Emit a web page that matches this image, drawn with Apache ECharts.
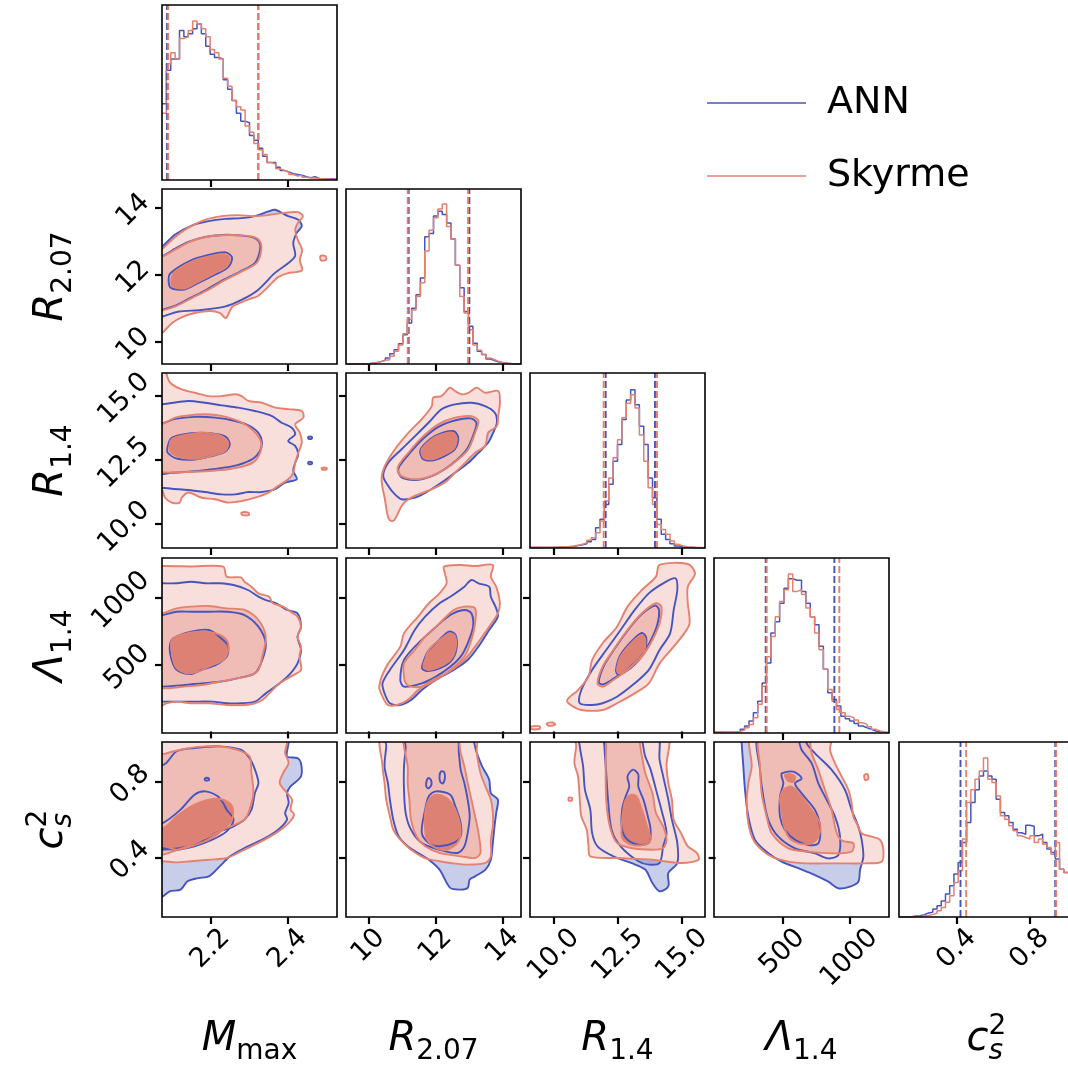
<!DOCTYPE html>
<html>
<head>
<meta charset="utf-8">
<script src="https://cdn.jsdelivr.net/npm/echarts@6/dist/echarts.min.js"></script>
<style>
  html, body { margin: 0; padding: 0; background: #fff; }
  #chart { width: 1068px; height: 1068px; }
</style>
</head>
<body>
<div id="chart"></div>
<script>
// variables: Mmax, R2.07, R1.4, Lambda1.4, cs2
const axisMin = [2.075, 9.33, 9.07, -12, 0.084];
const axisMax = [2.527, 14.55, 15.89, 1295, 1.010];
const tickValues = [[2.2, 2.4], [10, 12, 14], [10, 12.5, 15], [500, 1000], [0.4, 0.8]];
const tickLabels = [["2.2", "2.4"], ["10", "12", "14"], ["10.0", "12.5", "15.0"], ["500", "1000"], ["0.4", "0.8"]];
const modelNames = ["ANN", "Skyrme"];

// 1D histograms, 40 equal bins spanning each axis range (relative heights)
const histAnnM = [48, 69, 76, 76, 94, 90, 92, 95, 98, 92, 84, 79, 77, 76, 63, 57, 50, 42, 37, 36, 28, 25, 20, 15, 11, 11, 8, 6, 5, 4, 3.5, 3, 2, 1.5, 2, 1, 0.8, 0.6, 0.8, 0.4];
const histSkyM = [42, 73, 80, 76, 89, 90, 94, 100, 98, 95, 90, 82, 80, 76, 64, 59, 50, 46, 44, 34, 30, 23, 19, 16, 11, 10, 7, 6, 5, 3.5, 2.5, 3, 1.7, 1.3, 1.3, 1, 0.8, 0.6, 0.4, 0.2];
const histAnnR207 = [0, 0, 0, 0, 0, 0.4, 0.8, 1.5, 2.3, 3.8, 6.5, 9, 12.8, 18.4, 25.8, 35, 43.6, 54, 80, 82, 93, 96, 94, 88.6, 78.6, 62, 48, 33, 23.7, 13, 8, 5.9, 3.1, 2.1, 1.3, 0.8, 0.4, 0.2, 0, 0];
const histSkyR207 = [0, 0, 0, 0, 0, 0.4, 0.8, 1.5, 2.3, 2.7, 4.8, 8, 12, 19, 28, 34, 42.5, 51, 71, 84, 92, 97.5, 100.5, 86.5, 78.6, 62, 42.5, 32, 21.6, 12, 8.6, 5.9, 3.8, 2.7, 1.5, 0.8, 0.4, 0.2, 0, 0];
const histAnnR14 = [0.2, 0.2, 0.3, 0.3, 0.3, 0.3, 0.4, 0.5, 0.7, 1, 1.5, 2.1, 2.7, 4, 5.4, 12.8, 18, 27.4, 40, 54.6, 65, 80.7, 93, 99.5, 90, 76.5, 65, 44, 31.6, 18, 8.6, 5.4, 2.7, 1.3, 0.8, 0.4, 0.3, 0.2, 0.1, 0];
const histSkyR14 = [0.6, 0.6, 0.4, 0.4, 0.4, 0.6, 0.8, 0.8, 1, 1.3, 1.7, 2.3, 3.3, 4.8, 6.5, 9.6, 17, 29.5, 44, 56.7, 68, 81.8, 91, 96.4, 88, 71, 54.6, 37.9, 27.4, 14.8, 11.7, 8.6, 4.4, 2.3, 1.3, 0.8, 0.6, 0.4, 0.3, 0.2];
const histAnnLam = [0.4, 0.4, 0.4, 0.4, 0.5, 1, 2.3, 4.4, 7.5, 12.7, 20, 31.5, 44, 62.8, 70, 81.6, 91, 97, 96, 96, 89, 81.6, 73, 68, 54.5, 40, 25.3, 21, 17, 10.6, 9, 7.5, 6, 4.4, 3.3, 2.3, 1.3, 0.8, 0.4, 0.2];
const histSkyLam = [0.6, 0.6, 0.5, 0.5, 0.6, 1, 1.9, 3.3, 5.4, 9.6, 18, 29.4, 48, 60.7, 73, 82.7, 90, 100, 89, 90, 87, 78.5, 73, 62.8, 52.4, 40, 27.3, 20, 14.8, 12.7, 10.6, 9.6, 8.1, 6.5, 5.4, 4, 2.3, 1.3, 0.6, 0.4];
const histAnnCs = [0, 0, 0.2, 0.6, 0.8, 1.5, 2.5, 3, 5, 7, 10, 14.4, 19.7, 27, 34.3, 46.8, 59.4, 72, 80, 88.7, 91.8, 88.7, 86.6, 74, 65.7, 63.6, 59.4, 55.2, 53, 52, 57.7, 57, 51, 52, 46.8, 42.7, 40.6, 36.4, 30, 28];
const histSkyCs = [0, 0, 0, 0, 0.2, 0.6, 1, 1.5, 2.5, 4, 6, 9.2, 13.4, 21.7, 29, 49, 72, 80, 86.6, 91.8, 100, 86.6, 84.5, 76, 63.6, 61.5, 57.3, 54.2, 51, 50, 49, 51, 46.8, 49, 45.8, 43.7, 39.5, 46.8, 30, 28];

// 16% / 84% quantiles (dashed lines)
const quantAnn = [[2.088, 2.324], [11.20, 13.01], [12.02, 13.94], [374, 887], [0.421, 0.940]];
const quantSky = [[2.091, 2.323], [11.17, 12.97], [11.94, 14.02], [382, 924], [0.452, 0.945]];

// 2D contours: [level (0 outer, 1 middle, 2 inner), outline points in data units]
const annM_R207 = [
  [0, [[2.057,12.72],[2.074,12.82],[2.109,13.19],[2.152,13.46],[2.195,13.59],[2.238,13.66],[2.281,13.68],[2.315,13.74],[2.350,13.88],[2.367,13.93],[2.401,13.74],[2.427,13.63],[2.436,13.44],[2.423,13.24],[2.414,12.94],[2.418,12.53],[2.366,12.04],[2.323,11.54],[2.280,11.24],[2.237,11.04],[2.177,10.94],[2.116,10.89],[2.075,10.74],[2.057,10.70]]],
  [1, [[2.057,12.57],[2.075,12.55],[2.109,12.77],[2.143,12.97],[2.186,13.12],[2.229,13.18],[2.272,13.17],[2.312,13.10],[2.328,12.92],[2.326,12.62],[2.314,12.33],[2.276,12.08],[2.235,11.85],[2.192,11.56],[2.150,11.31],[2.108,11.06],[2.075,10.95],[2.057,10.90]]],
  [2, [[2.098,12.05],[2.150,12.42],[2.195,12.58],[2.240,12.66],[2.256,12.50],[2.246,12.22],[2.213,12.00],[2.168,11.74],[2.132,11.55],[2.098,11.60],[2.092,11.84]]]
];
const skyM_R207 = [
  [0, [[2.057,12.64],[2.075,12.76],[2.109,13.12],[2.142,13.39],[2.186,13.63],[2.230,13.74],[2.271,13.77],[2.315,13.74],[2.349,13.77],[2.385,13.83],[2.426,13.86],[2.439,13.74],[2.426,13.54],[2.419,13.33],[2.426,13.03],[2.437,12.73],[2.431,12.43],[2.437,12.13],[2.419,12.07],[2.400,12.04],[2.375,11.92],[2.359,11.75],[2.341,11.54],[2.323,11.36],[2.302,11.27],[2.276,11.15],[2.256,11.03],[2.240,10.70],[2.225,10.85],[2.199,10.91],[2.160,10.85],[2.127,10.73],[2.101,10.55],[2.075,10.25],[2.057,10.11]]],
  [0, [[2.484,12.55],[2.497,12.55],[2.499,12.44],[2.486,12.42]]],
  [1, [[2.057,12.55],[2.075,12.54],[2.109,12.74],[2.143,12.96],[2.186,13.11],[2.229,13.17],[2.272,13.17],[2.315,13.11],[2.330,12.94],[2.330,12.64],[2.319,12.34],[2.279,12.08],[2.237,11.83],[2.194,11.54],[2.151,11.29],[2.108,11.04],[2.075,10.92],[2.057,10.88]]],
  [2, [[2.108,12.08],[2.151,12.38],[2.194,12.53],[2.237,12.61],[2.250,12.48],[2.241,12.23],[2.211,12.04],[2.168,11.78],[2.134,11.59],[2.103,11.64],[2.099,11.84]]]
];
const annM_R14 = [
  [0, [[2.057,14.70],[2.074,14.67],[2.143,14.80],[2.186,14.73],[2.229,14.63],[2.272,14.54],[2.315,14.41],[2.358,14.22],[2.384,13.95],[2.410,13.76],[2.419,13.50],[2.401,13.24],[2.419,13.05],[2.427,12.72],[2.419,12.39],[2.414,12.07],[2.423,11.75],[2.393,11.62],[2.367,11.36],[2.333,11.25],[2.298,11.25],[2.264,11.16],[2.229,11.16],[2.186,11.25],[2.143,11.33],[2.100,11.38],[2.074,11.42],[2.057,11.42]]],
  [0, [[2.453,13.40],[2.462,13.40],[2.462,13.33],[2.453,13.33]]],
  [0, [[2.453,12.42],[2.462,12.42],[2.462,12.35],[2.453,12.35]]],
  [1, [[2.057,13.92],[2.074,13.92],[2.109,14.10],[2.160,14.18],[2.212,14.15],[2.264,14.02],[2.298,13.85],[2.324,13.56],[2.333,13.20],[2.328,12.85],[2.310,12.55],[2.270,12.30],[2.212,12.15],[2.150,12.05],[2.100,12.00],[2.074,11.95],[2.057,11.95]]],
  [2, [[2.090,13.05],[2.100,13.36],[2.150,13.54],[2.200,13.54],[2.240,13.40],[2.250,13.10],[2.238,12.82],[2.200,12.64],[2.160,12.52],[2.115,12.55],[2.090,12.78]]]
];
const skyM_R14 = [
  [0, [[2.057,16.01],[2.087,16.01],[2.087,15.84],[2.096,15.51],[2.126,15.25],[2.160,15.12],[2.195,14.99],[2.229,14.99],[2.264,15.06],[2.281,14.99],[2.298,14.80],[2.333,14.73],[2.367,14.54],[2.401,14.48],[2.436,14.41],[2.440,14.15],[2.419,13.89],[2.431,13.56],[2.436,13.17],[2.427,12.78],[2.419,12.39],[2.414,12.00],[2.401,11.75],[2.375,11.49],[2.350,11.23],[2.315,11.03],[2.281,10.90],[2.246,10.84],[2.212,10.97],[2.178,11.03],[2.143,11.23],[2.126,11.03],[2.121,10.84],[2.100,10.84],[2.083,11.03],[2.074,11.36],[2.057,11.36]]],
  [0, [[2.488,12.19],[2.500,12.19],[2.500,12.13],[2.488,12.13]]],
  [0, [[2.280,10.45],[2.298,10.45],[2.300,10.36],[2.282,10.36]]],
  [1, [[2.057,13.89],[2.074,13.89],[2.109,14.15],[2.143,14.24],[2.186,14.28],[2.229,14.22],[2.272,14.02],[2.307,13.70],[2.328,13.31],[2.331,12.92],[2.315,12.46],[2.289,12.27],[2.246,12.14],[2.195,12.07],[2.143,12.03],[2.100,12.01],[2.074,12.01],[2.057,12.01]]],
  [2, [[2.100,13.31],[2.143,13.50],[2.186,13.56],[2.229,13.43],[2.246,13.17],[2.238,12.85],[2.203,12.66],[2.169,12.55],[2.126,12.59],[2.096,12.85]]]
];
const annR207_R14 = [
  [0, [[10.44,11.88],[10.59,12.39],[10.99,12.92],[11.39,13.43],[11.79,13.95],[12.18,14.48],[12.58,14.67],[13.08,14.73],[13.48,14.60],[13.77,14.34],[13.83,13.95],[13.72,13.56],[13.57,13.17],[13.28,12.78],[12.98,12.39],[12.58,12.00],[12.18,11.62],[11.79,11.29],[11.39,11.03],[10.99,10.97],[10.79,11.16],[10.59,11.49]]],
  [1, [[10.92,12.25],[11.22,12.75],[11.62,13.32],[12.10,13.80],[12.60,14.05],[13.05,14.12],[13.22,13.95],[13.15,13.55],[12.95,12.95],[12.65,12.52],[12.25,12.12],[11.85,11.85],[11.45,11.72],[11.05,11.78],[10.90,12.00]]],
  [2, [[11.55,12.90],[11.85,13.32],[12.18,13.55],[12.55,13.62],[12.68,13.35],[12.58,12.92],[12.22,12.62],[11.90,12.48],[11.62,12.55]]]
];
const skyR207_R14 = [
  [0, [[10.59,10.25],[10.49,10.97],[10.39,11.75],[10.49,12.27],[10.79,12.92],[11.19,13.56],[11.59,14.09],[11.89,14.60],[11.93,14.93],[12.18,14.99],[12.43,15.32],[12.58,15.19],[12.78,15.06],[12.98,15.12],[13.23,15.32],[13.48,15.12],[13.87,15.19],[13.92,14.73],[13.87,14.21],[13.83,13.82],[13.57,13.56],[13.48,13.05],[13.18,12.78],[12.88,12.39],[12.58,12.00],[12.28,11.62],[11.89,11.36],[11.49,11.16],[11.19,10.97],[10.99,10.71],[10.79,10.19],[10.69,10.12]]],
  [1, [[10.89,12.27],[11.19,12.78],[11.59,13.37],[12.08,13.89],[12.58,14.15],[13.08,14.21],[13.28,14.02],[13.18,13.56],[12.98,12.92],[12.68,12.53],[12.28,12.14],[11.89,11.88],[11.49,11.75],[11.09,11.81],[10.89,12.00]]],
  [2, [[11.59,12.92],[11.89,13.31],[12.18,13.50],[12.53,13.56],[12.63,13.31],[12.53,12.92],[12.18,12.66],[11.89,12.53],[11.64,12.59]]]
];
const annM_Lam = [
  [0, [[2.05,1106],[2.077,1106],[2.113,1106],[2.150,1118],[2.187,1106],[2.224,1106],[2.260,1093],[2.297,1056],[2.324,1006],[2.343,981],[2.370,957],[2.398,907],[2.425,882],[2.434,782],[2.425,707],[2.434,608],[2.425,508],[2.407,434],[2.379,359],[2.343,284],[2.315,222],[2.279,210],[2.242,210],[2.205,222],[2.150,222],[2.113,222],[2.077,222],[2.05,222]]],
  [1, [[2.05,869],[2.077,869],[2.113,894],[2.150,894],[2.196,894],[2.242,894],[2.288,869],[2.324,782],[2.343,658],[2.334,533],[2.315,434],[2.269,396],[2.224,371],[2.178,359],[2.132,346],[2.077,334],[2.05,334]]],
  [2, [[2.095,633],[2.104,695],[2.150,745],[2.196,757],[2.233,683],[2.246,633],[2.242,558],[2.214,496],[2.178,459],[2.150,429],[2.113,459],[2.100,533]]]
];
const skyM_Lam = [
  [0, [[2.05,1230],[2.081,1235],[2.150,1232],[2.233,1230],[2.242,1156],[2.279,1150],[2.288,1118],[2.306,1081],[2.324,1031],[2.352,1006],[2.361,957],[2.388,932],[2.407,894],[2.425,857],[2.434,782],[2.425,707],[2.434,633],[2.430,558],[2.434,459],[2.407,409],[2.379,359],[2.352,284],[2.334,234],[2.315,210],[2.288,197],[2.242,197],[2.196,210],[2.150,210],[2.113,222],[2.086,210],[2.077,197],[2.05,197]]],
  [1, [[2.05,882],[2.077,882],[2.113,919],[2.150,932],[2.196,937],[2.242,919],[2.288,907],[2.324,832],[2.343,707],[2.334,558],[2.324,459],[2.306,421],[2.269,396],[2.224,371],[2.178,346],[2.132,334],[2.095,322],[2.077,322],[2.05,322]]],
  [2, [[2.100,683],[2.123,720],[2.168,745],[2.214,732],[2.242,683],[2.246,608],[2.233,533],[2.205,496],[2.168,446],[2.141,434],[2.113,471],[2.104,533],[2.100,608]]]
];
const annR207_Lam = [
  [0, [[10.48,284],[10.42,359],[10.64,459],[11.06,608],[11.38,757],[11.69,857],[12.12,957],[12.44,1006],[12.86,1081],[13.07,1131],[13.28,1106],[13.60,1081],[13.65,1006],[13.81,919],[13.86,857],[13.60,757],[13.28,633],[12.96,533],[12.54,459],[12.01,384],[11.59,309],[11.27,234],[10.95,197],[10.64,210]]],
  [1, [[10.95,384],[11.06,533],[11.48,658],[11.91,757],[12.44,869],[12.86,907],[13.07,882],[13.12,782],[12.96,658],[12.75,558],[12.44,483],[12.01,409],[11.59,359],[11.06,334]]],
  [2, [[11.64,520],[11.78,600],[12.10,680],[12.40,745],[12.60,720],[12.62,610],[12.46,525],[12.12,470],[11.78,450],[11.60,470]]]
];
const skyR207_Lam = [
  [0, [[10.42,259],[10.32,334],[10.53,483],[10.95,633],[11.06,732],[11.48,857],[11.80,957],[12.12,1031],[12.33,1106],[12.28,1180],[12.25,1230],[12.75,1243],[13.18,1235],[13.71,1243],[13.65,1156],[13.81,1081],[13.92,957],[13.86,882],[13.60,782],[13.18,633],[12.86,533],[12.33,434],[11.91,384],[11.48,309],[11.17,234],[10.85,197],[10.58,197]]],
  [1, [[11.06,409],[11.06,508],[11.38,608],[11.69,707],[12.12,807],[12.54,907],[12.86,932],[13.18,919],[13.18,807],[13.07,683],[12.86,558],[12.44,459],[12.01,384],[11.59,334],[11.27,334],[11.11,359]]],
  [2, [[11.69,533],[11.80,608],[12.12,683],[12.44,732],[12.59,707],[12.59,608],[12.44,533],[12.12,483],[11.80,459],[11.64,483]]]
];
const annR14_Lam = [
  [0, [[11.01,210],[11.07,309],[11.49,459],[12.04,608],[12.60,757],[13.15,907],[13.70,1031],[14.26,1106],[14.74,1143],[14.81,1056],[14.67,907],[14.53,732],[14.12,608],[13.70,459],[13.15,359],[12.46,259],[11.90,210],[11.49,197]]],
  [1, [[11.75,370],[11.95,490],[12.36,615],[12.90,760],[13.45,880],[13.95,940],[14.10,905],[14.02,790],[13.75,670],[13.38,555],[12.86,465],[12.30,390],[11.90,350]]],
  [2, [[12.42,455],[12.58,565],[13.00,668],[13.42,735],[13.60,700],[13.52,590],[13.18,505],[12.75,440],[12.50,425]]]
];
const skyR14_Lam = [
  [0, [[10.52,234],[10.94,309],[11.35,409],[11.49,533],[11.90,658],[12.46,782],[12.87,932],[13.43,1056],[13.98,1156],[14.12,1243],[15.22,1250],[15.50,1180],[15.22,1081],[15.22,957],[15.29,807],[15.08,732],[14.67,633],[14.12,508],[13.70,359],[13.15,284],[12.46,210],[11.90,160],[11.07,160],[10.66,197]]],
  [0, [[9.72,60],[9.95,66],[10.05,50],[9.80,42]]],
  [0, [[9.10,35],[9.45,38],[9.45,20],[9.10,18]]],
  [1, [[11.70,359],[11.90,483],[12.32,608],[12.87,757],[13.43,882],[13.98,957],[14.19,932],[14.12,807],[13.84,683],[13.43,558],[12.87,459],[12.32,384],[11.90,334]]],
  [2, [[12.46,459],[12.60,558],[13.01,658],[13.43,720],[13.56,683],[13.49,583],[13.15,508],[12.73,446],[12.53,434]]]
];
const annM_Cs = [
  [0, [[2.05,1.05],[2.402,1.05],[2.402,1.005],[2.398,0.934],[2.425,0.925],[2.434,0.899],[2.434,0.828],[2.407,0.775],[2.398,0.740],[2.402,0.687],[2.393,0.634],[2.398,0.599],[2.375,0.546],[2.334,0.493],[2.288,0.449],[2.251,0.405],[2.224,0.352],[2.196,0.299],[2.168,0.290],[2.141,0.273],[2.123,0.229],[2.095,0.220],[2.077,0.193],[2.05,0.19]]],
  [1, [[2.05,0.85],[2.086,0.899],[2.113,0.961],[2.159,0.978],[2.224,0.987],[2.279,0.969],[2.301,0.925],[2.315,0.864],[2.324,0.793],[2.315,0.740],[2.306,0.652],[2.288,0.599],[2.260,0.564],[2.214,0.529],[2.168,0.476],[2.123,0.449],[2.077,0.440],[2.05,0.44]]],
  [1, [[2.186,0.818],[2.196,0.818],[2.196,0.808],[2.186,0.808]]],
  [2, [[2.05,0.58],[2.077,0.581],[2.123,0.652],[2.159,0.731],[2.187,0.749],[2.219,0.723],[2.233,0.687],[2.242,0.652],[2.260,0.599],[2.242,0.537],[2.205,0.493],[2.159,0.458],[2.113,0.440],[2.081,0.449],[2.05,0.45]]]
];
const skyM_Cs = [
  [0, [[2.05,1.05],[2.398,1.05],[2.398,1.005],[2.393,0.952],[2.402,0.899],[2.388,0.846],[2.379,0.793],[2.398,0.740],[2.411,0.705],[2.407,0.652],[2.416,0.626],[2.402,0.581],[2.370,0.529],[2.324,0.476],[2.279,0.431],[2.242,0.396],[2.196,0.387],[2.150,0.379],[2.113,0.373],[2.077,0.379],[2.05,0.379]]],
  [1, [[2.05,0.92],[2.086,0.95],[2.123,0.969],[2.168,0.984],[2.224,0.987],[2.269,0.969],[2.301,0.934],[2.306,0.846],[2.311,0.740],[2.301,0.652],[2.288,0.599],[2.242,0.555],[2.196,0.511],[2.150,0.467],[2.104,0.431],[2.077,0.414],[2.05,0.41]]],
  [2, [[2.05,0.53],[2.086,0.564],[2.113,0.617],[2.150,0.670],[2.196,0.705],[2.233,0.705],[2.256,0.670],[2.256,0.599],[2.233,0.546],[2.196,0.493],[2.150,0.458],[2.113,0.440],[2.081,0.458],[2.05,0.46]]]
];
const annR207_Cs = [
  [0, [[10.53,1.05],[13.0,1.05],[13.23,0.952],[13.39,0.881],[13.60,0.811],[13.65,0.740],[13.86,0.705],[13.81,0.634],[13.76,0.564],[13.71,0.476],[13.65,0.387],[13.49,0.335],[13.18,0.299],[13.02,0.282],[12.96,0.238],[12.75,0.229],[12.44,0.238],[12.12,0.335],[11.80,0.387],[11.48,0.423],[11.17,0.458],[10.90,0.511],[10.74,0.599],[10.64,0.705],[10.58,0.793],[10.48,0.881],[10.53,0.987]]],
  [1, [[11.11,1.05],[12.6,1.05],[12.70,0.943],[12.75,0.864],[12.86,0.793],[12.96,0.705],[13.02,0.617],[12.96,0.529],[12.86,0.458],[12.65,0.423],[12.12,0.440],[11.59,0.476],[11.27,0.546],[11.11,0.634],[11.06,0.758],[11.06,0.881],[11.11,0.978]]],
  [2, [[11.59,0.529],[11.69,0.652],[11.80,0.723],[12.01,0.749],[12.44,0.731],[12.59,0.670],[12.75,0.581],[12.75,0.511],[12.54,0.476],[12.12,0.458],[11.80,0.476]]],
  [2, [[11.72,0.79],[11.78,0.82],[11.86,0.81],[11.88,0.785],[11.80,0.765],[11.74,0.77]]],
  [2, [[12.12,0.83],[12.17,0.855],[12.26,0.85],[12.28,0.82],[12.22,0.79],[12.14,0.80]]]
];
const skyR207_Cs = [
  [0, [[10.42,1.05],[13.18,1.05],[13.23,0.952],[13.34,0.846],[13.49,0.775],[13.65,0.705],[13.71,0.634],[13.71,0.564],[13.65,0.493],[13.65,0.405],[13.49,0.370],[12.96,0.361],[12.44,0.370],[12.12,0.379],[11.69,0.396],[11.27,0.440],[10.95,0.493],[10.74,0.546],[10.64,0.617],[10.53,0.705],[10.48,0.793],[10.42,0.881]]],
  [1, [[11.06,1.05],[12.6,1.05],[12.75,0.952],[12.86,0.881],[12.96,0.793],[13.07,0.705],[13.18,0.617],[13.28,0.529],[13.34,0.423],[13.18,0.396],[12.75,0.405],[12.12,0.423],[11.69,0.458],[11.43,0.511],[11.27,0.599],[11.22,0.705],[11.17,0.793],[11.17,0.881],[11.06,0.987]]],
  [2, [[11.69,0.546],[11.69,0.634],[11.80,0.705],[12.01,0.731],[12.33,0.714],[12.54,0.670],[12.70,0.599],[12.75,0.529],[12.65,0.476],[12.33,0.440],[12.01,0.449],[11.75,0.493]]]
];
const annR14_Cs = [
  [0, [[11.01,1.05],[14.0,1.05],[14.12,0.917],[14.26,0.828],[14.46,0.705],[14.60,0.599],[14.81,0.476],[14.81,0.370],[14.46,0.317],[14.46,0.246],[14.12,0.220],[13.84,0.264],[13.56,0.335],[13.01,0.370],[12.32,0.405],[11.70,0.458],[11.49,0.529],[11.42,0.652],[11.21,0.758],[11.14,0.881],[11.01,0.987]]],
  [1, [[11.97,1.05],[13.3,1.05],[13.56,0.934],[13.77,0.864],[13.98,0.758],[14.19,0.652],[14.39,0.529],[14.26,0.458],[14.12,0.370],[13.70,0.361],[13.29,0.379],[12.60,0.458],[12.25,0.546],[12.11,0.705],[12.04,0.846],[11.97,0.987]]],
  [2, [[12.87,0.828],[13.08,0.864],[13.29,0.838],[13.29,0.775],[13.49,0.705],[13.63,0.634],[13.77,0.546],[13.70,0.476],[13.29,0.467],[12.87,0.493],[12.66,0.546],[12.66,0.652],[12.80,0.723],[12.94,0.775]]]
];
const skyR14_Cs = [
  [0, [[10.87,1.05],[14.39,1.05],[14.39,0.881],[14.46,0.793],[14.60,0.705],[14.67,0.599],[14.95,0.529],[15.22,0.458],[15.57,0.423],[15.64,0.387],[14.95,0.370],[13.84,0.387],[12.46,0.396],[11.42,0.405],[11.35,0.458],[11.28,0.546],[11.07,0.617],[11.01,0.705],[10.94,0.829],[10.80,0.899],[10.87,0.987]]],
  [0, [[10.58,0.715],[10.70,0.715],[10.70,0.700],[10.58,0.700]]],
  [1, [[12.04,1.05],[13.2,1.05],[13.43,0.934],[13.56,0.846],[13.84,0.740],[13.98,0.634],[14.26,0.564],[14.39,0.493],[14.26,0.449],[13.84,0.440],[13.01,0.449],[12.46,0.476],[12.18,0.564],[12.04,0.705],[12.02,0.881],[12.04,0.987]]],
  [2, [[12.80,0.705],[13.01,0.731],[13.22,0.723],[13.43,0.652],[13.63,0.564],[13.77,0.493],[13.56,0.467],[13.01,0.467],[12.66,0.502],[12.66,0.599],[12.73,0.670]]]
];
const annLam_Cs = [
  [0, [[194.7,1.05],[680,1.05],[680.2,1.003],[742.4,0.950],[866.9,0.862],[966.5,0.756],[1016.3,0.650],[1066.1,0.562],[1090.9,0.492],[1103.4,0.403],[1078.5,0.333],[1066.1,0.271],[1003.8,0.245],[916.7,0.236],[842,0.271],[742.4,0.306],[617.9,0.342],[493.4,0.377],[393.8,0.421],[294.3,0.492],[244.5,0.615],[219.6,0.756],[207.1,0.880],[194.7,1.003]]],
  [1, [[319.2,1.05],[593,1.05],[642.8,0.968],[717.5,0.897],[767.3,0.791],[817.1,0.721],[891.8,0.615],[929.1,0.509],[916.7,0.412],[842,0.394],[742.4,0.421],[593,0.447],[468.5,0.509],[393.8,0.597],[356,0.721],[331.6,0.862]]],
  [2, [[493.4,0.844],[580.6,0.853],[642.8,0.818],[593,0.791],[642.8,0.738],[742.4,0.650],[779.7,0.562],[767.3,0.474],[692.6,0.465],[593,0.492],[518.3,0.545],[481,0.615],[481,0.721],[505.9,0.791],[493.4,0.827]]]
];
const skyLam_Cs = [
  [0, [[269.4,1.05],[860,1.05],[854.4,0.968],[892,0.897],[942,0.827],[992,0.756],[1016,0.686],[1028.7,0.615],[1053.6,0.580],[1090.9,0.527],[1165.7,0.509],[1228,0.492],[1252.8,0.439],[1240.3,0.377],[1115.8,0.368],[916.7,0.368],[667.7,0.368],[543.2,0.377],[418.7,0.403],[344.0,0.439],[281.8,0.492],[244.5,0.580],[232.0,0.686],[244.5,0.791],[269.4,0.880]]],
  [0, [[1110,0.835],[1135,0.840],[1140,0.815],[1118,0.808]]],
  [1, [[331.6,1.05],[680,1.05],[717.5,0.950],[767.3,0.862],[817.1,0.756],[866.9,0.650],[891.8,0.562],[916.7,0.509],[954,0.485],[1028.7,0.474],[1016.3,0.430],[866.9,0.421],[692.6,0.430],[543.2,0.447],[418.7,0.527],[381.4,0.615],[344,0.738],[331.6,0.880]]],
  [2, [[493.4,0.650],[481,0.703],[505.9,0.756],[568.1,0.774],[642.8,0.721],[717.5,0.650],[779.7,0.580],[767.3,0.509],[717.5,0.474],[617.9,0.474],[543.2,0.509],[505.9,0.580]]],
  [2, [[518,0.835],[560,0.840],[593,0.825],[580,0.80],[540,0.805]]]
];

const histAnn = [histAnnM, histAnnR207, histAnnR14, histAnnLam, histAnnCs];
const histSky = [histSkyM, histSkyR207, histSkyR14, histSkyLam, histSkyCs];
const panels2d = [
  [1, 0, annM_R207, skyM_R207],
  [2, 0, annM_R14, skyM_R14],
  [2, 1, annR207_R14, skyR207_R14],
  [3, 0, annM_Lam, skyM_Lam],
  [3, 1, annR207_Lam, skyR207_Lam],
  [3, 2, annR14_Lam, skyR14_Lam],
  [4, 0, annM_Cs, skyM_Cs],
  [4, 1, annR207_Cs, skyR207_Cs],
  [4, 2, annR14_Cs, skyR14_Cs],
  [4, 3, annLam_Cs, skyLam_Cs]
];

// ---- styling / layout ----
const FONT = "DejaVu Sans";
const annColor = "#4655bd";
const skyColor = "#e4816f";
const annFill = ["#c8cde9", "#a6aedd", "#7f8acd"];
const skyFill = ["#f9dfdb", "#efbdb6", "#de8175"];
const colLeft = [162, 346, 530, 714, 899];
const rowTop = [5, 189, 373, 558, 742];
const SIZE = 175;
const HIST_TOP = 110;
const TICK_LEN = 7;

const chart = echarts.init(document.getElementById("chart"), null, { renderer: "canvas" });

const grids = [], xAxes = [], yAxes = [], series = [];
const gIndex = {};
let g = 0;
for (let r = 0; r < 5; r++) {
  for (let c = 0; c <= r; c++) {
    const isHist = r === c;
    gIndex[r + "_" + c] = g;
    grids.push({ left: colLeft[c], top: rowTop[r], width: SIZE, height: SIZE, show: false });
    const tickStyle = { show: true, inside: false, length: TICK_LEN, lineStyle: { color: "#000", width: 2.2 } };
    xAxes.push({
      type: "value", gridIndex: g, min: axisMin[c], max: axisMax[c],
      axisLine: { show: false },
      axisTick: Object.assign({ customValues: tickValues[c] }, tickStyle),
      axisLabel: { show: false },
      splitLine: { show: false }
    });
    yAxes.push({
      type: "value", gridIndex: g,
      min: isHist ? 0 : axisMin[r], max: isHist ? HIST_TOP : axisMax[r],
      axisLine: { show: false },
      axisTick: isHist ? { show: false } : Object.assign({ customValues: tickValues[r] }, tickStyle),
      axisLabel: { show: false },
      splitLine: { show: false }
    });
    g++;
  }
}

function stepData(vals, lo, hi) {
  const w = (hi - lo) / vals.length;
  const d = vals.map((v, i) => [lo + i * w, v]);
  d.push([hi, vals[vals.length - 1]]);
  return d;
}

for (let i = 0; i < 5; i++) {
  const gi = gIndex[i + "_" + i];
  [[histAnn[i], annColor, modelNames[0]], [histSky[i], skyColor, modelNames[1]]].forEach(([vals, col, name]) => {
    series.push({
      type: "line", name, xAxisIndex: gi, yAxisIndex: gi, step: "end", symbol: "none",
      data: stepData(vals, axisMin[i], axisMax[i]),
      lineStyle: { color: col, width: 1.5 }, silent: true, z: 3
    });
  });
  [[quantAnn[i], annColor], [quantSky[i], skyColor]].forEach(([qs, col]) => {
    qs.forEach((q) => {
      series.push({
        type: "line", xAxisIndex: gi, yAxisIndex: gi, symbol: "none",
        data: [[q, 0], [q, HIST_TOP]],
        lineStyle: { color: col, width: 1.9, type: [7, 3] }, silent: true, z: 3
      });
    });
  });
}

function contourSeries(gi, sets, mode, palette, lineColor) {
  return {
    type: "custom", xAxisIndex: gi, yAxisIndex: gi, clip: true, silent: true,
    data: sets.map((s, i) => [i]),
    renderItem: (params, api) => {
      const [lv, pts] = sets[params.dataIndex];
      const points = pts.map((p) => api.coord(p));
      if (mode === "fill") {
        return { type: "polygon", shape: { points, smooth: 0.3 }, style: { fill: palette[lv], stroke: null } };
      }
      return { type: "polygon", shape: { points, smooth: 0.3 }, style: { fill: null, stroke: lineColor, lineWidth: 1.9 } };
    }
  };
}

panels2d.forEach(([r, c, ann, sky]) => {
  const gi = gIndex[r + "_" + c];
  series.push(contourSeries(gi, ann, "fill", annFill));
  series.push(contourSeries(gi, sky, "fill", skyFill));
  series.push(contourSeries(gi, ann, "line", null, annColor));
  series.push(contourSeries(gi, sky, "line", null, skyColor));
});

chart.setOption({
  animation: false,
  backgroundColor: "#fff",
  grid: grids,
  xAxis: xAxes,
  yAxis: yAxes,
  series: series
});

// ---- text, frames, legend ----
const mctx = document.createElement("canvas").getContext("2d");
function textW(t, size, italic) {
  mctx.font = (italic ? "italic " : "") + size + "px \"" + FONT + "\"";
  return mctx.measureText(t).width;
}
function txt(t, x, y, size, italic, extra) {
  return Object.assign({
    type: "text", x, y, z: 110,
    style: { text: t, fontFamily: FONT, fontSize: size, fontStyle: italic ? "italic" : "normal",
      fill: "#000", align: "left", verticalAlign: "middle" }
  }, extra || {});
}

const graphics = [];

// panel frames
for (let r = 0; r < 5; r++) {
  for (let c = 0; c <= r; c++) {
    graphics.push({ type: "rect", z: 100, silent: true,
      shape: { x: colLeft[c], y: rowTop[r], width: SIZE, height: SIZE },
      style: { fill: null, stroke: "#000", lineWidth: 1.6 } });
  }
}

// tick labels, rotated 45 degrees and centred on the tick
const TL = 27;
const diag = Math.SQRT1_2;
for (let c = 0; c < 5; c++) {
  const gi = gIndex["4_" + c];
  tickValues[c].forEach((v, k) => {
    const lab = tickLabels[c][k];
    const w = textW(lab, TL, false);
    const px = chart.convertToPixel({ xAxisIndex: gi }, v);
    const cy = rowTop[4] + SIZE + TICK_LEN + 2 + (w + 0.8 * TL) * diag / 2;
    graphics.push({ type: "text", x: px, y: cy, rotation: Math.PI / 4, z: 110,
      style: { text: lab, fontFamily: FONT, fontSize: TL, fill: "#000", align: "center", verticalAlign: "middle" } });
  });
}
for (let r = 1; r < 5; r++) {
  const gi = gIndex[r + "_0"];
  tickValues[r].forEach((v, k) => {
    const lab = tickLabels[r][k];
    const w = textW(lab, TL, false);
    const py = chart.convertToPixel({ yAxisIndex: gi }, v);
    const cx = colLeft[0] - TICK_LEN - 2 - (w + 0.8 * TL) * diag / 2;
    graphics.push({ type: "text", x: cx, y: py + 3, rotation: Math.PI / 4, z: 110,
      style: { text: lab, fontFamily: FONT, fontSize: TL, fill: "#000", align: "center", verticalAlign: "middle" } });
  });
}

// axis titles (math-style: italic symbol, upright/italic subscripts)
const titleParts = [
  [{ t: "M", it: true }, { t: "max", sub: true }],
  [{ t: "R", it: true }, { t: "2.07", sub: true }],
  [{ t: "R", it: true }, { t: "1.4", sub: true }],
  [{ t: "Λ", it: true }, { t: "1.4", sub: true }],
  [{ t: "c", it: true }, { t: "s", it: true, sub: true }, { t: "2", sup: true }]
];
const BIG = 40, SMALL = 28;
function mathChildren(parts) {
  const items = [];
  let x = 0, lastStart = 0;
  parts.forEach((p) => {
    const size = (p.sub || p.sup) ? SMALL : BIG;
    const dy = p.sub ? 8 : (p.sup ? -17 : 0);
    const w = textW(p.t, size, !!p.it);
    if (p.sup) {
      items.push({ p, size, dy, x: lastStart });
      x = Math.max(x, lastStart + w);
    } else {
      items.push({ p, size, dy, x });
      lastStart = x;
      x += w;
    }
  });
  const off = -x / 2;
  return items.map((it) => txt(it.p.t, it.x + off, it.dy - 0.3 * it.size, it.size, !!it.p.it));
}
for (let c = 0; c < 5; c++) {
  graphics.push({ type: "group", x: colLeft[c] + SIZE / 2, y: 1052, children: mathChildren(titleParts[c]) });
}
for (let r = 1; r < 5; r++) {
  graphics.push({ type: "group", x: 64, y: rowTop[r] + SIZE / 2, rotation: Math.PI / 2, children: mathChildren(titleParts[r]) });
}

// legend
[[modelNames[0], annColor, 103], [modelNames[1], skyColor, 176]].forEach(([name, col, y]) => {
  graphics.push({ type: "line", z: 110, shape: { x1: 707, y1: y, x2: 806, y2: y }, style: { stroke: col, lineWidth: 1.6 } });
  graphics.push(txt(name, 827, y + 0.5, 38, false));
});

chart.setOption({ graphic: graphics });
</script>
</body>
</html>
